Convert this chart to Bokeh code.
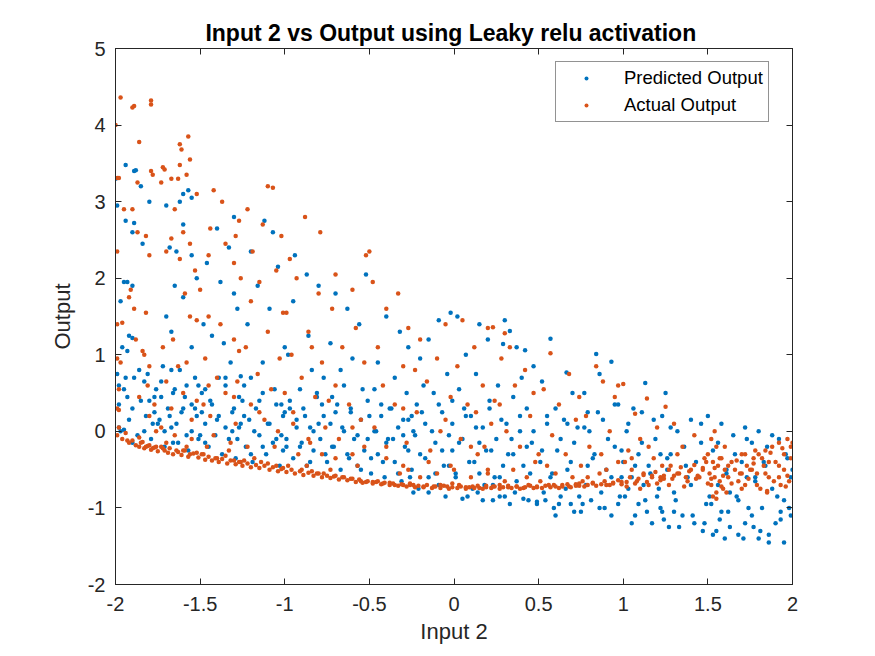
from bokeh.plotting import figure
from bokeh.models import LinearAxis, Range1d, FixedTicker, Legend, LegendItem, CustomJSTickFormatter
from bokeh.embed import file_html
from bokeh.resources import INLINE

# Predicted output (blue): (input2, output) values
pred_x = [
 -1.94,-1.89,-1.88,-2.0,-1.99,-1.85,-1.8,-1.94,-1.89,-1.9,-1.84,-1.95,-1.93,-1.9,-1.97,-1.92,-1.9,-1.96,-1.93,-1.99,-1.94,-1.98,-1.86,-1.83,-1.93,-1.9,-1.98,-1.97,-1.95,-1.9,-1.8,-1.82,-1.78,-1.76,-1.77,
 -1.57,-1.6,-1.62,-1.55,-1.7,-1.6,-1.68,-1.64,-1.55,-1.52,-1.65,-1.6,-1.7,-1.67,-1.55,-1.72,-1.67,-1.62,-1.58,-1.66,-1.73,-1.6,-1.68,-1.71,-1.64,-1.58,-1.52,-1.55,-1.66,-1.51,-1.53,-1.74,
 -1.3,-1.4,-1.33,-1.46,-1.38,-1.3,-1.28,-1.48,-1.43,-1.36,-1.32,-1.39,-1.35,-1.26,-1.47,-1.44,-1.3,-1.4,-1.35,-1.28,-1.47,-1.49,-1.27,-1.5,-1.26,-1.31,
 -1.12,-1.07,-1.2,-1.04,-1.16,-1.09,-1.22,-1.0,-1.13,-1.2,-1.06,-1.15,-1.02,-1.24,-1.1,-1.18,-1.05,-1.13,-1.2,-1.0,-1.02,-1.24,-1.01,
 -0.94,-0.87,-0.8,-0.95,-0.86,-0.98,-0.84,-0.77,-0.91,-0.81,-0.97,-0.88,-0.93,-0.83,-0.9,-0.76,-0.85,-0.99,-0.78,-0.8,
 -0.52,-0.7,-0.63,-0.56,-0.73,-0.6,-0.67,-0.54,-0.72,-0.61,-0.5,-0.66,-0.57,-0.72,-0.62,-0.55,-0.7,-0.51,-0.65,
 -0.4,-0.32,-0.27,-0.45,-0.35,-0.28,-0.43,-0.38,-0.3,-0.46,-0.36,-0.27,-0.42,-0.33,-0.49,-0.25,-0.4,-0.47,-0.3,-0.26,
 -0.02,-0.09,-0.15,-0.2,-0.04,-0.12,-0.22,-0.07,-0.17,-0.03,-0.11,-0.2,-0.06,-0.15,-0.24,-0.09,-0.24,-0.01,-0.01,-0.18,
 0.02,0.15,0.2,0.07,0.13,0.03,0.21,0.1,0.17,0.05,0.22,0.12,0.01,0.18,0.08,0.23,0.14,0.24,0.06,0.15,
 0.3,0.33,0.29,0.37,0.42,0.47,0.26,0.35,0.43,0.28,0.39,0.46,0.32,0.41,0.27,0.36,0.44,0.3,0.49,0.4,0.34,
 0.57,0.665,0.52,0.7,0.6,0.55,0.73,0.63,0.52,0.69,0.58,0.66,0.54,0.71,0.62,0.74,0.67,0.6,
 0.84,0.93,0.86,0.77,0.97,0.88,0.8,0.95,0.82,0.9,0.78,0.98,0.86,0.93,0.76,0.79,0.99,
 1.13,1.25,1.06,1.18,1.02,1.11,1.22,1.07,1.16,1.03,1.2,1.09,1.14,1.24,1.05,1.22,1.0,1.23,1.12,
 1.4,1.32,1.46,1.28,1.37,1.44,1.3,1.49,1.35,1.42,1.27,1.47,1.3,1.4,1.26,
 1.5,1.58,1.65,1.53,1.7,1.61,1.56,1.67,1.52,1.62,1.57,1.55,1.6,1.72,1.74,1.63,1.68,1.73,1.72,
 1.8,1.92,1.85,1.97,2.0,1.78,1.88,1.95,1.82,1.99,1.9,1.86,1.95,1.8,1.77,1.76,1.93,1.84,
]
pred_y = [
 3.48,3.4,3.41,3.3,2.95,3.2,3.0,2.75,2.72,2.6,2.45,1.95,1.95,1.9,1.7,1.25,1.22,1.1,1.05,0.75,0.7,0.6,0.8,0.65,0.45,0.3,0.05,0.0,0.02,-0.15,0.4,0.2,0.1,0.55,0.25,
 3.15,3.1,3.0,3.05,2.95,2.7,2.4,2.35,2.3,2.0,1.9,1.75,1.5,1.3,1.1,0.85,0.8,0.8,0.6,0.5,0.45,0.3,0.2,0.0,0.1,-0.05,0.2,0.35,-0.15,0.6,0.7,0.15,
 2.8,2.65,2.4,2.2,1.95,1.8,1.6,1.4,1.25,1.15,0.9,0.7,0.7,0.72,0.55,0.4,0.3,0.15,0.05,-0.1,-0.15,0.25,0.45,-0.05,0.1,0.0,
 2.75,2.6,2.35,2.15,1.9,1.6,1.4,1.1,0.9,0.7,0.55,0.4,0.35,0.2,0.1,0.0,-0.1,-0.2,-0.3,0.25,-0.05,0.6,-0.25,
 2.3,2.05,1.9,1.7,1.25,1.0,0.8,0.7,0.55,0.5,0.3,0.2,0.05,0.0,-0.15,-0.3,-0.4,-0.2,0.35,0.1,
 2.05,1.8,1.6,1.4,1.15,0.95,0.8,0.55,0.45,0.3,0.2,0.05,-0.05,-0.2,-0.35,-0.5,0.25,-0.1,0.6,
 1.5,1.3,1.1,0.9,0.7,0.5,0.35,0.3,0.15,0.0,-0.1,-0.25,-0.4,-0.55,-0.35,0.2,-0.15,0.55,-0.05,-0.6,
 1.55,1.45,1.2,0.95,0.75,0.5,0.35,0.25,0.1,-0.05,-0.15,-0.3,-0.45,-0.6,-0.8,-0.7,0.0,0.4,-0.25,0.6,
 1.5,1.4,1.2,1.0,0.75,0.55,0.4,0.2,0.05,-0.1,-0.25,-0.4,-0.55,-0.7,-0.85,-0.9,-0.8,-0.6,0.3,-0.15,
 1.45,1.31,1.14,1.1,1.06,0.85,0.6,0.45,0.3,0.15,0.0,-0.15,-0.3,-0.45,-0.6,-0.8,-0.9,-0.85,-0.95,0.7,-0.1,
 1.21,0.77,0.65,0.5,0.3,0.2,0.05,-0.1,-0.25,-0.4,-0.55,-0.75,-0.9,-1.05,-0.95,-0.85,0.1,-1.1,
 1.01,0.91,0.75,0.5,0.35,0.15,0.0,-0.2,-0.35,-0.5,-0.7,-0.85,-1.0,-1.1,-0.95,0.25,-0.6,
 0.63,0.5,0.3,0.15,0.0,-0.15,-0.3,-0.45,-0.55,-0.75,-0.85,-0.95,-1.05,-1.15,-1.2,-1.0,-0.4,0.2,-0.7,
 0.15,0.0,-0.15,-0.3,-0.45,-0.6,-0.8,-0.95,-1.1,-1.2,-1.25,-1.3,-1.05,-0.7,-0.5,
 0.2,0.1,-0.05,-0.25,-0.4,-0.55,-0.7,-0.85,-0.95,-1.05,-1.15,-1.3,-1.4,-1.2,-1.0,-0.8,-1.35,-0.6,0.05,
 0.0,-0.1,-0.2,-0.35,-0.5,-0.6,-0.75,-0.9,-1.0,-1.1,-1.2,-1.35,-1.45,-1.4,-1.25,-0.15,-1.05,-0.45,
]
# more predicted points from the dense cloud, as (input2, output)
pred_more = [
 (-1.98,0.35),(-1.95,0.55),(-1.92,0.15),(-1.89,0.7),(-1.87,-0.05),(-1.85,0.4),(-1.83,0.0),(-1.81,0.75),(-1.79,-0.1),(-1.77,0.45),
 (-1.75,0.1),(-1.73,0.65),(-1.71,-0.2),(-1.69,0.3),(-1.67,0.05),(-1.65,0.55),(-1.63,-0.15),(-1.61,0.25),(-1.59,0.45),(-1.57,-0.25),
 (-1.55,0.0),(-1.53,0.3),(-1.51,-0.1),(-1.49,0.5),(-1.47,0.1),(-1.45,-0.2),(-1.43,0.35),(-1.41,-0.05),(-1.39,0.2),(-1.37,-0.3),
 (-1.35,0.6),(-1.33,-0.1),(-1.31,0.25),(-1.29,-0.35),(-1.27,0.05),(-1.25,0.4),(-1.23,-0.2),(-1.21,0.15),(-1.19,-0.4),(-1.17,0.3),
 (-1.15,-0.05),(-1.13,0.5),(-1.11,-0.3),(-1.09,0.1),(-1.07,-0.15),(-1.05,0.35),(-1.03,-0.45),(-1.01,0.2),(-0.99,-0.1),(-0.97,0.4),
 (-0.95,-0.35),(-0.93,0.15),(-0.91,-0.2),(-0.89,0.3),(-0.87,-0.45),(-0.85,0.05),(-0.83,-0.25),(-0.81,0.45),(-0.79,-0.1),(-0.77,0.2),
 (-0.75,-0.4),(-0.73,0.1),(-0.71,-0.2),(-0.69,0.35),(-0.67,-0.5),(-0.65,0.0),(-0.63,-0.3),(-0.61,0.25),(-0.59,-0.1),(-0.57,-0.45),
 (-0.55,0.15),(-0.53,-0.25),(-0.51,0.4),(-0.49,-0.55),(-0.47,0.0),(-0.45,-0.3),(-0.43,0.2),(-0.41,-0.6),(-0.39,-0.1),(-0.37,0.3),
 (-0.35,-0.4),(-0.33,0.05),(-0.31,-0.65),(-0.29,-0.2),(-0.27,0.15),(-0.25,-0.5),(-0.23,-0.05),(-0.21,-0.75),(-0.19,0.25),(-0.17,-0.35),
 (-0.15,-0.8),(-0.13,0.0),(-0.11,-0.55),(-0.09,0.35),(-0.07,-0.25),(-0.05,-0.85),(-0.03,-0.45),(-0.01,0.1),(0.01,-0.6),(0.03,-0.15),
 (0.05,-0.88),(0.07,0.2),(0.09,-0.4),(0.11,-0.75),(0.13,0.05),(0.15,-0.55),(0.17,-0.9),(0.19,-0.25),(0.21,0.3),(0.23,-0.7),
 (0.25,-0.1),(0.27,-0.85),(0.29,-0.45),(0.31,0.1),(0.33,-0.95),(0.35,-0.3),(0.37,-0.65),(0.39,0.2),(0.41,-0.88),(0.43,-0.2),
 (0.45,-0.55),(0.47,0.0),(0.49,-0.92),(0.51,-0.4),(0.53,-0.8),(0.55,0.1),(0.57,-0.6),(0.59,-1.0),(0.61,-0.25),(0.63,-0.85),
 (0.65,0.15),(0.67,-0.5),(0.69,-0.95),(0.71,-0.15),(0.73,-0.7),(0.75,-1.05),(0.77,0.05),(0.79,-0.45),(0.81,-0.9),(0.83,-0.3),
 (0.85,0.25),(0.87,-0.8),(0.89,-1.0),(0.91,-0.1),(0.93,-0.6),(0.95,0.35),(0.97,-0.95),(0.99,-0.25),(1.01,-0.85),(1.03,0.1),
 (1.05,-0.6),(1.07,-1.1),(1.09,-0.3),(1.11,0.25),(1.13,-0.9),(1.15,-0.45),(1.17,-1.2),(1.19,-0.1),(1.21,-0.75),(1.23,-1.05),
 (1.26,-0.35),(1.28,0.05),(1.31,-0.9),(1.33,-1.25),(1.36,-0.2),(1.38,-0.6),(1.41,-1.1),(1.43,-0.4),(1.46,0.1),(1.48,-1.2),
 (1.51,-0.85),(1.53,-1.35),(1.56,-0.15),(1.58,-1.05),(1.61,-0.5),(1.63,-1.25),(1.66,-0.3),(1.68,-0.9),(1.71,-1.4),(1.73,-0.1),
 (1.76,-1.1),(1.78,-0.65),(1.81,-1.3),(1.83,-0.4),(1.86,-1.45),(1.88,-0.05),(1.91,-0.85),(1.93,-1.15),(1.96,-0.3),(1.98,-1.0),(1.99,-0.6),
]

# Actual output (orange)
act_x = [
 -1.97,-1.9,-1.89,-1.79,-1.79,-2.0,-1.86,-1.99,-1.98,-1.87,-1.95,-1.9,-1.87,-1.82,-1.99,-1.8,-1.79,-1.78,-1.91,-1.92,-1.89,-1.82,-1.99,-1.96,-1.88,-1.84,-1.83,-1.99,-1.97,-1.98,-1.99,-1.98,-1.86,-1.98,-1.86,-1.93,-1.85,-1.82,-1.78,-1.76,-1.8,-1.8,-1.77,-1.81,-1.8,-1.76,
 -1.57,-1.62,-1.61,-1.56,-1.62,-1.58,-1.72,-1.71,-1.67,-1.73,-1.63,-1.52,-1.65,-1.6,-1.67,-1.56,-1.7,-1.62,-1.53,-1.59,-1.56,-1.52,-1.66,-1.72,-1.63,-1.7,-1.6,-1.67,-1.55,-1.65,-1.7,-1.72,-1.64,-1.6,-1.56,-1.52,-1.58,-1.73,-1.55,-1.52,
 -1.42,-1.37,-1.27,-1.44,-1.29,-1.35,-1.45,-1.3,-1.26,-1.5,-1.45,-1.38,-1.3,-1.27,-1.47,-1.4,-1.35,-1.48,-1.29,-1.42,-1.46,-1.48,-1.4,-1.35,-1.3,-1.26,-1.33,-1.44,-1.32,-1.28,
 -1.1,-1.07,-1.22,-1.13,-1.02,-1.19,-1.05,-1.15,-1.2,-1.01,-1.1,-1.23,-1.03,-1.16,-1.08,-1.2,-1.12,-1.04,-1.22,-1.18,-1.14,-1.1,-1.05,-1.01,-1.24,-1.06,-1.0,
 -0.88,-0.79,-0.97,-0.93,-0.8,-0.99,-0.86,-0.96,-0.78,-0.9,-0.82,-0.95,-0.76,-0.86,-0.92,-0.98,-0.9,-0.84,-0.8,-0.77,-0.87,-0.78,-0.84,
 -0.5,-0.52,-0.7,-0.6,-0.72,-0.58,-0.66,-0.53,-0.7,-0.62,-0.55,-0.68,-0.6,-0.73,-0.7,-0.65,-0.6,-0.55,-0.52,-0.57,-0.53,-0.74,
 -0.48,-0.33,-0.4,-0.27,-0.45,-0.3,-0.42,-0.35,-0.47,-0.28,-0.4,-0.32,-0.45,-0.42,-0.38,-0.35,-0.3,-0.26,-0.48,-0.27,-0.3,
 -0.05,-0.2,-0.1,-0.16,-0.02,-0.22,-0.08,-0.14,-0.02,-0.2,-0.24,-0.18,-0.12,-0.08,-0.04,-0.01,-0.1,-0.05,-0.23,
 0.05,0.2,0.12,0.02,0.17,0.08,0.22,0.04,0.14,0.2,0.03,0.07,0.11,0.15,0.19,0.23,0.1,0.24,0.18,0.13,
 0.23,0.3,0.33,0.28,0.42,0.36,0.27,0.45,0.31,0.39,0.48,0.27,0.32,0.37,0.41,0.45,0.49,0.3,0.43,0.47,
 0.57,0.68,0.53,0.62,0.72,0.58,0.66,0.55,0.51,0.56,0.6,0.64,0.68,0.72,0.74,0.7,0.74,
 0.84,0.88,0.95,0.78,0.92,0.8,0.97,0.86,0.76,0.82,0.9,0.94,0.99,0.79,0.87,0.97,
 1.0,1.14,1.25,1.07,1.2,1.1,1.03,1.18,1.05,1.12,1.22,1.08,1.15,1.02,1.2,1.24,1.1,1.17,1.23,1.01,
 1.3,1.42,1.35,1.48,1.28,1.4,1.33,1.45,1.38,1.27,1.5,1.3,1.43,1.36,1.47,1.32,
 1.52,1.55,1.5,1.58,1.53,1.56,1.6,1.51,1.54,1.57,1.52,1.59,1.55,1.53,1.62,1.66,1.7,1.73,1.68,1.64,1.7,1.72,1.75,1.6,1.54,
 1.97,1.92,1.88,1.84,1.8,1.77,1.9,1.83,1.95,1.79,1.86,1.98,1.93,1.81,1.99,1.95,1.76,1.86,1.92,1.78,2.0,1.85,
]
act_y = [
 4.36,4.23,4.25,4.32,4.27,4.0,3.78,3.31,3.31,3.25,2.9,2.9,2.6,2.55,2.35,2.3,3.4,3.35,1.85,1.75,1.6,1.55,1.4,1.42,1.2,1.05,1.0,0.95,0.9,0.55,0.3,0.28,0.45,0.05,-0.08,-0.12,-0.15,-0.2,-0.22,-0.2,-0.18,0.2,0.35,0.6,0.85,0.0,
 3.85,3.75,3.68,3.55,3.48,3.35,3.45,3.42,3.3,3.25,3.3,3.1,2.9,2.6,2.52,2.45,2.35,2.25,2.1,1.8,1.5,1.45,1.2,1.1,0.85,0.65,0.5,0.3,0.15,-0.05,-0.15,-0.22,-0.25,-0.25,-0.3,-0.28,-0.2,0.05,-0.1,0.4,
 3.15,3.0,2.75,2.65,2.55,2.45,2.3,2.2,2.0,1.85,1.5,1.4,1.2,1.05,0.95,0.7,0.5,0.35,0.1,-0.05,-0.2,-0.3,-0.35,-0.32,-0.38,-0.4,-0.25,0.2,-0.15,0.65,
 3.2,3.18,2.9,2.7,2.55,2.35,2.1,1.95,1.7,1.55,1.3,1.1,0.95,0.75,0.55,0.35,0.15,0.0,-0.2,-0.35,-0.4,-0.42,-0.45,-0.48,-0.38,-0.2,0.5,
 2.8,2.6,2.25,2.0,1.8,1.55,1.3,1.0,0.9,0.7,0.45,0.25,0.05,-0.1,-0.3,-0.45,-0.5,-0.52,-0.55,-0.55,-0.45,-0.3,1.1,
 2.35,2.3,2.05,1.85,1.6,1.35,1.1,0.9,0.6,0.35,0.15,-0.1,-0.3,-0.5,-0.58,-0.6,-0.62,-0.65,-0.66,-0.45,-0.2,0.4,
 1.95,1.8,1.6,1.35,1.1,0.85,0.6,0.35,0.05,-0.15,-0.35,-0.55,-0.65,-0.68,-0.67,-0.7,-0.7,-0.68,-0.66,-0.5,0.3,
 1.4,1.2,0.95,0.65,0.45,0.25,0.0,-0.25,-0.45,-0.6,-0.7,-0.72,-0.72,-0.7,-0.72,-0.68,-0.55,0.15,0.8,
 1.45,1.35,1.1,0.85,0.6,0.35,0.1,-0.1,-0.3,-0.5,-0.7,-0.73,-0.72,-0.74,-0.71,-0.72,-0.6,0.4,-0.2,0.25,
 1.36,1.28,1.1,0.95,0.8,0.6,0.35,0.2,0.0,-0.2,-0.4,-0.7,-0.73,-0.72,-0.74,-0.71,-0.73,-0.65,-0.6,0.5,
 1.02,0.75,0.55,0.35,0.15,-0.05,-0.3,-0.45,-0.65,-0.7,-0.72,-0.7,-0.72,-0.69,-0.71,-0.6,0.45,
 0.85,0.65,0.45,0.2,0.0,-0.2,-0.4,-0.55,-0.65,-0.68,-0.7,-0.67,-0.66,-0.6,-0.3,0.6,
 0.62,0.43,0.32,0.23,0.05,-0.1,-0.25,-0.35,-0.5,-0.55,-0.6,-0.65,-0.7,-0.72,-0.68,-0.62,-0.75,-0.58,-0.45,-0.4,
 0.1,-0.05,-0.2,-0.35,-0.45,-0.5,-0.55,-0.6,-0.65,-0.7,-0.68,-0.58,-0.62,-0.72,-0.48,-0.3,
 -0.1,-0.2,-0.3,-0.35,-0.4,-0.45,-0.5,-0.55,-0.6,-0.65,-0.7,-0.75,-0.8,-0.85,-0.6,-0.5,-0.55,-0.45,-0.65,-0.4,-0.3,-0.7,-0.5,-0.2,0.0,
 -0.1,-0.15,-0.2,-0.25,-0.3,-0.35,-0.4,-0.45,-0.5,-0.55,-0.6,-0.65,-0.7,-0.75,-0.2,-0.3,-0.5,-0.4,-0.6,-0.25,-0.15,-0.8,
]
# more actual points: the dense lower band and the middle, as (input2, output)
act_more = [
 (-1.99,-0.05),(-1.96,-0.1),(-1.94,-0.02),(-1.92,-0.15),(-1.9,-0.12),(-1.88,-0.18),(-1.86,-0.2),(-1.84,-0.14),(-1.83,-0.22),(-1.81,-0.19),
 (-1.79,-0.24),(-1.77,-0.21),(-1.75,-0.26),(-1.73,-0.2),(-1.71,-0.25),(-1.69,-0.28),(-1.68,-0.22),(-1.66,-0.3),(-1.63,-0.27),(-1.61,-0.31),
 (-1.59,-0.25),(-1.57,-0.33),(-1.54,-0.29),(-1.51,-0.34),(-1.49,-0.3),(-1.47,-0.37),(-1.45,-0.33),(-1.43,-0.38),(-1.41,-0.35),(-1.39,-0.4),
 (-1.37,-0.36),(-1.34,-0.42),(-1.32,-0.38),(-1.29,-0.43),(-1.27,-0.4),(-1.25,-0.45),(-1.22,-0.42),(-1.2,-0.47),(-1.17,-0.44),(-1.15,-0.48),
 (-1.12,-0.45),(-1.09,-0.5),(-1.07,-0.47),(-1.04,-0.52),(-1.02,-0.49),(-0.99,-0.53),(-0.96,-0.5),(-0.94,-0.55),(-0.91,-0.52),(-0.89,-0.57),
 (-0.86,-0.54),(-0.83,-0.58),(-0.81,-0.55),(-0.78,-0.6),(-0.75,-0.58),(-0.73,-0.61),(-0.71,-0.59),(-0.68,-0.63),(-0.66,-0.6),(-0.63,-0.64),
 (-0.61,-0.62),(-0.58,-0.66),(-0.56,-0.63),(-0.54,-0.67),(-0.51,-0.65),(-0.48,-0.68),(-0.46,-0.66),(-0.43,-0.69),(-0.41,-0.67),(-0.38,-0.7),
 (-0.36,-0.68),(-0.33,-0.71),(-0.31,-0.69),(-0.28,-0.72),(-0.26,-0.7),(-0.23,-0.73),(-0.21,-0.71),(-0.18,-0.73),(-0.16,-0.7),(-0.13,-0.74),
 (-0.11,-0.72),(-0.08,-0.74),(-0.06,-0.71),(-0.03,-0.75),(-0.01,-0.73),(0.02,-0.74),(0.04,-0.72),(0.07,-0.75),(0.09,-0.73),(0.12,-0.74),
 (0.14,-0.71),(0.17,-0.75),(0.19,-0.73),(0.22,-0.74),(0.24,-0.72),(0.27,-0.75),(0.29,-0.73),(0.32,-0.71),(0.34,-0.74),(0.37,-0.72),
 (0.39,-0.75),(0.42,-0.73),(0.44,-0.7),(0.47,-0.74),(0.49,-0.72),(0.52,-0.74),(0.54,-0.71),(0.57,-0.73),(0.59,-0.7),(0.62,-0.74),
 (0.64,-0.72),(0.67,-0.69),(0.69,-0.73),(0.72,-0.71),(0.74,-0.68),(0.77,-0.72),(0.79,-0.7),(0.82,-0.67),(0.84,-0.71),(0.87,-0.69),
 (0.89,-0.65),(0.92,-0.7),(0.94,-0.68),(0.97,-0.64),(0.99,-0.69),(1.02,-0.66),(1.04,-0.6),(1.07,-0.68),(1.09,-0.62),(1.12,-0.57),
 (1.14,-0.66),(1.17,-0.6),(1.19,-0.53),(1.22,-0.64),(1.24,-0.58),(1.27,-0.5),(1.29,-0.62),(1.32,-0.55),(1.34,-0.47),(1.37,-0.6),
 (1.39,-0.52),(1.42,-0.44),(1.44,-0.58),(1.47,-0.5),(1.49,-0.4),(1.52,-0.62),(1.54,-0.48),(1.57,-0.35),(1.59,-0.58),(1.62,-0.45),
 (1.64,-0.68),(1.67,-0.38),(1.69,-0.55),(1.72,-0.3),(1.74,-0.62),(1.77,-0.42),(1.79,-0.7),(1.82,-0.35),(1.84,-0.55),(1.87,-0.28),
 (1.89,-0.65),(1.92,-0.45),(1.94,-0.22),(1.97,-0.58),(1.99,-0.35),(1.58,-0.72),(1.61,-0.8),(1.55,-0.88),(1.7,-0.75),(1.85,-0.78),(1.96,-0.72),
 (-1.58,0.9),(-1.45,0.6),(-1.3,0.45),(-1.15,0.25),(-0.95,0.1),(-0.85,-0.15),(-0.7,-0.35),(-0.6,0.05),(-0.4,-0.2),(-0.3,-0.45),
 (-0.15,-0.4),(0.0,-0.5),(0.1,-0.2),(0.2,-0.55),(0.35,-0.5),(0.5,-0.3),(0.6,-0.55),(0.75,-0.45),(0.9,-0.5),(1.05,-0.35),(1.15,-0.2),
]

x_ticks = [-2, -1.5, -1, -0.5, 0, 0.5, 1, 1.5, 2]
y_ticks = [-2, -1, 0, 1, 2, 3, 4, 5]
title_text = "Input 2 vs Output  using Leaky relu activation"
x_label = "Input 2"
y_label = "Output"
series_names = ["Predicted Output", "Actual Output"]
colors = ["#0072BD", "#D95319"]

px_all = pred_x + [a for a, b in pred_more]
py_all = pred_y + [b for a, b in pred_more]
ax_all = act_x + [a for a, b in act_more]
ay_all = act_y + [b for a, b in act_more]

FONT = "Liberation Sans"
AX = "#262626"

p = figure(width=859, height=650, output_backend="svg", toolbar_location=None,
           x_range=Range1d(-2, 2), y_range=Range1d(-2, 5),
           min_border_left=115, min_border_right=67, min_border_top=48, min_border_bottom=66)
p.title.text = title_text
p.title.align = "center"
p.title.text_font = FONT
p.title.text_font_size = "23px"
p.title.text_font_style = "bold"
p.title.text_color = "#000000"
p.title.offset = 0
p.title.standoff = 5
p.grid.visible = False
p.outline_line_color = AX
p.outline_line_width = 1
p.background_fill_color = "white"
p.border_fill_color = "white"

r1 = p.scatter(px_all, py_all, size=4.5, color=colors[0], line_color=None)
r2 = p.scatter(ax_all, ay_all, size=4.5, color=colors[1], line_color=None)

fmt = CustomJSTickFormatter(code="return tick.toString();")

def style_axis(ax, labels=True):
    ax.axis_line_color = AX
    ax.major_tick_line_color = AX
    ax.minor_tick_line_color = None
    ax.major_tick_in = 6
    ax.major_tick_out = 0
    ax.major_label_text_font = FONT
    ax.major_label_text_font_size = "20px" if labels else "0px"
    ax.major_label_text_color = AX
    ax.axis_label_text_font = FONT
    ax.axis_label_text_font_size = "22px"
    ax.axis_label_text_font_style = "normal"
    ax.axis_label_text_color = AX
    ax.formatter = fmt

p.xaxis.ticker = FixedTicker(ticks=x_ticks)
p.yaxis.ticker = FixedTicker(ticks=y_ticks)
p.xaxis.axis_label = x_label
p.yaxis.axis_label = y_label
style_axis(p.xaxis[0])
style_axis(p.yaxis[0])
p.xaxis.major_label_standoff = 12
p.xaxis.axis_label_standoff = 5
p.yaxis.major_label_standoff = 10
p.yaxis.axis_label_standoff = 10

# mirrored inward ticks on the top and right of the box
top = LinearAxis(ticker=FixedTicker(ticks=x_ticks))
right = LinearAxis(ticker=FixedTicker(ticks=y_ticks))
style_axis(top, False)
style_axis(right, False)
top.major_label_standoff = 0
right.major_label_standoff = 0
p.add_layout(top, "above")
p.add_layout(right, "right")

legend = Legend(items=[LegendItem(label=series_names[0], renderers=[r1]),
                       LegendItem(label=series_names[1], renderers=[r2])],
                location=(440, 462))
legend.label_text_font = FONT
legend.label_text_font_size = "18.5px"
legend.label_text_color = "#000000"
legend.border_line_color = AX
legend.border_line_width = 1
legend.padding = 5
legend.spacing = 5
legend.glyph_width = 50
legend.glyph_height = 10
legend.label_height = 21
legend.label_standoff = 13
legend.margin = 0
legend.background_fill_alpha = 1
p.add_layout(legend, "center")

open("out.html", "w").write(file_html(p, INLINE))
